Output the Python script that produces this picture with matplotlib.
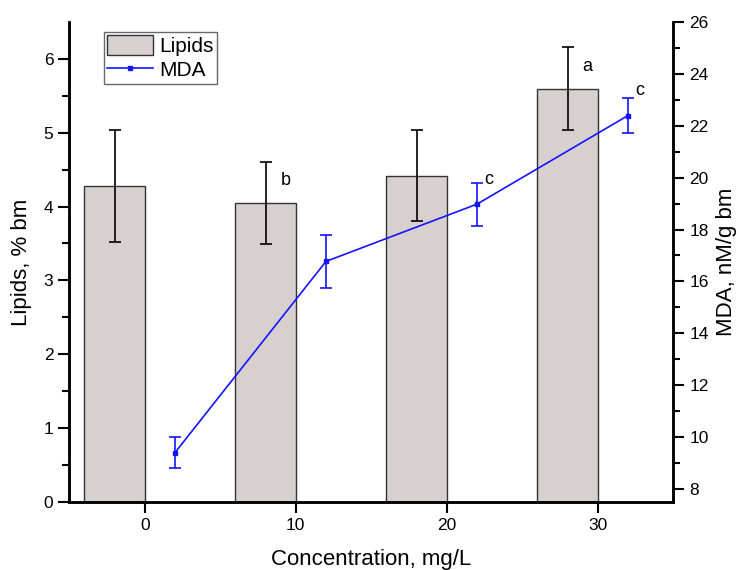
import matplotlib
matplotlib.use("Agg")
import matplotlib.pyplot as plt
import numpy as np

plt.rcParams['font.family'] = ['Liberation Sans', 'DejaVu Sans']

# Data
concentration = [0, 10, 20, 30]
lipids = [4.28, 4.05, 4.42, 5.60]
lipids_err = [0.76, 0.56, 0.62, 0.56]
mda = [9.39, 16.77, 18.98, 22.40]
mda_err = [0.60, 1.03, 0.83, 0.67]
lipid_marks = {10: "b", 30: "a"}
mda_marks = {20: "c", 30: "c"}

bar_color = "#d8cfcf"
line_color = "#1414ff"

x = np.array(concentration, dtype=float)
x_bar = x - 2
x_line = x + 2

fig = plt.figure(figsize=(7.37, 5.70), dpi=100)
ax = fig.add_axes([0.094, 0.120, 0.8196, 0.841])
ax2 = ax.twinx()

bars = ax.bar(x_bar, lipids, width=4, color=bar_color, edgecolor="#333333",
              linewidth=1.0, label="Lipids", zorder=2)
ax.errorbar(x_bar, lipids, yerr=lipids_err, fmt="none", ecolor="black",
            elinewidth=1.2, capsize=4.5, capthick=1.2, zorder=3)

line, = ax2.plot(x_line, mda, "-s", color=line_color, lw=1.2, ms=3.5,
                 label="MDA", zorder=4)
ax2.errorbar(x_line, mda, yerr=mda_err, fmt="none", ecolor=line_color,
             elinewidth=1.2, capsize=4.5, capthick=1.2, zorder=4)

# significance letters
for c, s in lipid_marks.items():
    i = concentration.index(c)
    ax.text(x_bar[i] + 1.0, lipids[i] + 0.3, s, fontsize=13, ha="left", va="center")
for c, s in mda_marks.items():
    i = concentration.index(c)
    ax2.text(x_line[i] + 0.45, mda[i] + 0.95, s, fontsize=13, ha="left", va="center")

ax.set_xlim(-5, 35)
ax.set_ylim(0, 6.5)
ax2.set_ylim(7.5, 26)

ax.set_xticks([0, 10, 20, 30])
ax.set_yticks(np.arange(0, 7, 1))
ax.set_yticks(np.arange(0.5, 6.5, 1), minor=True)
ax2.set_yticks(np.arange(8, 27, 2))
ax2.set_yticks(np.arange(9, 26, 2), minor=True)

for a in (ax, ax2):
    for sp in a.spines.values():
        sp.set_linewidth(1.8)
    a.tick_params(which="major", direction="out", length=8, width=1.5, labelsize=12.5)
    a.tick_params(which="minor", direction="out", length=5, width=1.5)
ax.spines["top"].set_visible(False)
ax2.spines["top"].set_visible(False)

ax.set_xlabel("Concentration, mg/L", fontsize=16, labelpad=12)
ax.set_ylabel("Lipids, % bm", fontsize=16, labelpad=8)
ax2.set_ylabel("MDA, nM/g bm", fontsize=16, labelpad=5)

leg = ax.legend([bars, line], ["Lipids", "MDA"], loc="upper left",
                bbox_to_anchor=(104 / 737, 1 - 32 / 570), bbox_transform=fig.transFigure,
                fontsize=15, frameon=True, fancybox=False, borderpad=0.15,
                handlelength=2.2, handleheight=1.1, handletextpad=0.3,
                labelspacing=0.15, borderaxespad=0)
leg.get_frame().set_edgecolor("#444444")
leg.get_frame().set_linewidth(1.0)
leg.set_zorder(10)

fig.savefig("out.png", dpi=100)
